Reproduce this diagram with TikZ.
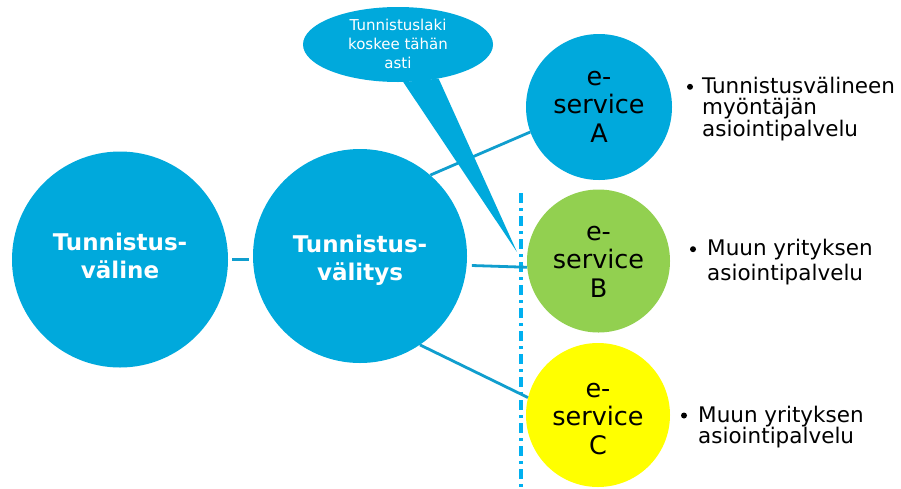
\documentclass[tikz,border=0pt]{standalone}
\usepackage{fontspec}
\setmainfont{DejaVu Sans}
\usetikzlibrary{shapes.geometric,calc}
\definecolor{cblue}{RGB}{0,169,220}
\definecolor{lblue}{RGB}{16,158,206}
\definecolor{dblue}{RGB}{0,176,240}
\definecolor{cgreen}{RGB}{146,208,80}
\definecolor{cyellow}{RGB}{255,255,0}
\newcommand\cstack[1]{\vtop{\halign{\hfil##\hfil\cr#1\crcr}}}
\newcommand\lstack[1]{\vtop{\halign{##\hfil\cr#1\crcr}}}
\tikzset{
  bigc/.style={circle, fill=cblue, minimum size=#1, inner sep=0pt, text=white,
    font=\bfseries\fontsize{23}{28}\selectfont, text height=16.8pt},
  svc/.style={circle, fill=#1, minimum size=144pt, inner sep=0pt, text=black,
    font=\fontsize{25.5}{28.5}\selectfont, text height=14.2pt},
  conn/.style={draw=lblue, line width=2.8pt},
  btxt/.style={anchor=base west, inner sep=0pt, text=black},
  bdot/.style={fill=black},
  sepline/.style={draw=dblue, line width=3.2pt, dash pattern=on 10pt off 5pt on 3pt off 5pt},
  callout/.style={ellipse, fill=cblue, minimum width=190pt, minimum height=75pt,
    inner sep=0pt, text=white, font=\fontsize{15}{19}\selectfont}
}
\begin{document}
\begin{tikzpicture}[x=1pt, y=-1pt]
\useasboundingbox (0,0) rectangle (901,488);
\fill[white] (0,0) rectangle (901,488);

% separator
\draw[sepline] (521,193) -- (521,488);

% main circles
\node[bigc=216pt, text depth=35.8pt] (c1) at (120,259.5) {\cstack{Tunnistus-\cr väline}};
\node[bigc=214pt, text depth=24.8pt] (c2) at (360,256) {\cstack{Tunnistus-\cr välitys}};

% e-service circles
\node[svc=cblue, minimum size=146pt, text depth=58.2pt] (cA) at (599,107) {\cstack{e-\cr service\cr A}};
\node[svc=cgreen, minimum size=143pt, text depth=56.2pt] (cB) at (598.5,261) {\cstack{e-\cr service\cr B}};
\node[svc=cyellow, minimum size=144pt, text depth=50.2pt] (cC) at (598,415) {\cstack{e-\cr service\cr C}};

% connectors
\draw[conn, shorten <=4pt, shorten >=4pt] (c1.east) -- (c1.east -| c2.west);
\draw[conn] (c2.49) -- (cA.200);
\draw[conn, shorten <=5pt] (c2.-5.6) -- (cB.185);
\draw[conn] (c2.-56) -- (cC.166.5);

% callout
\node[callout, text height=10.9pt, text depth=38.5pt] (call) at (398,44.5) {\cstack{Tunnistuslaki\cr koskee tähän\cr asti}};
\coordinate (tip) at (517,252);
\fill[cblue] (call.-82) -- (tip) -- (call.-40) -- cycle;

% bullet texts
\node[btxt, font=\fontsize{21.5}{21.5}\selectfont] (tA) at (702,93.3) {\lstack{Tunnistusvälineen\cr myöntäjän\cr asiointipalvelu}};
\node[btxt, font=\fontsize{21.5}{25}\selectfont] (tB) at (707,255.7) {\lstack{Muun yrityksen\cr asiointipalvelu}};
\node[btxt, font=\fontsize{21.5}{21.5}\selectfont] (tC) at (698,422) {\lstack{Muun yrityksen\cr asiointipalvelu}};
\fill[bdot] ($(tA.base west)+(-12,-6.5)$) circle (3);
\fill[bdot] ($(tB.base west)+(-14,-6.5)$) circle (3);
\fill[bdot] ($(tC.base west)+(-14,-6.5)$) circle (3);
\end{tikzpicture}
\end{document}
